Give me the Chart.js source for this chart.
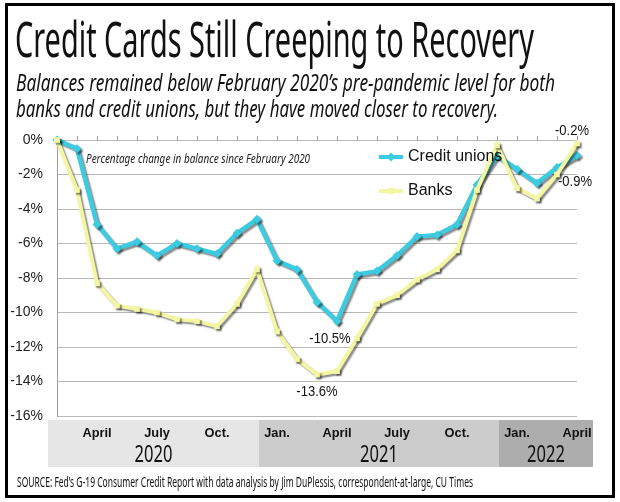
<!DOCTYPE html>
<html>
<head>
<meta charset="utf-8">
<script src="https://cdn.jsdelivr.net/npm/chart.js@4"></script>
<style>
  html, body { margin: 0; padding: 0; background: #fff; }
  #page { position: relative; width: 620px; height: 502px; overflow: hidden; }
  #frame { position: absolute; left: 5px; top: 3px; width: 610px; height: 495px; border: 3px solid #000; box-sizing: border-box; }
  canvas { position: absolute; left: 0; top: 0; }
  .txt { position: absolute; white-space: nowrap; transform-origin: 0 0; color: #111; font-family: "Noto Sans", sans-serif; }
  #title { left: 15px; top: 4px; font-size: 50px; }
  #sub1 { left: 16px; top: 66px; font-size: 23px; font-style: italic; }
  #sub2 { left: 16px; top: 92px; font-size: 23px; font-style: italic; }
  #source { left: 17px; top: 473px; font-size: 13.5px; }
</style>
</head>
<body>
<div id="page">
  <canvas id="goldless" width="620" height="502"></canvas>
  <div id="frame"></div>
  <div class="txt" id="title" data-w="519">Credit Cards Still Creeping to Recovery</div>
  <div class="txt" id="sub1" data-w="539">Balances remained below February 2020’s pre-pandemic level for both</div>
  <div class="txt" id="sub2" data-w="482">banks and credit unions, but they have moved closer to recovery.</div>
  <div class="txt" id="source" data-w="456">SOURCE: Fed’s G-19 Consumer Credit Report with data analysis by Jim DuPlessis, correspondent-at-large, CU Times</div>
</div>
<script>
// Percentage change in credit card balance since February 2020
const months = [
  'Feb 2020', 'Mar 2020', 'Apr 2020', 'May 2020', 'Jun 2020', 'Jul 2020', 'Aug 2020', 'Sep 2020', 'Oct 2020', 'Nov 2020', 'Dec 2020',
  'Jan 2021', 'Feb 2021', 'Mar 2021', 'Apr 2021', 'May 2021', 'Jun 2021', 'Jul 2021', 'Aug 2021', 'Sep 2021', 'Oct 2021', 'Nov 2021', 'Dec 2021',
  'Jan 2022', 'Feb 2022', 'Mar 2022', 'Apr 2022'
];
const creditUnions = [0, -0.5, -4.9, -6.3, -5.9, -6.7, -6.0, -6.3, -6.6, -5.4, -4.6,
  -7.0, -7.5, -9.4, -10.5, -7.8, -7.6, -6.7, -5.6, -5.5, -4.9, -2.6, -0.9,
  -1.7, -2.5, -1.6, -0.9];
const banks = [0, -2.9, -8.3, -9.6, -9.8, -10.0, -10.4, -10.5, -10.8, -9.5, -7.5,
  -11.1, -12.7, -13.6, -13.4, -11.5, -9.5, -9.0, -8.1, -7.5, -6.4, -2.9, -0.3,
  -2.8, -3.4, -2.0, -0.2];
const yTicks = [0, -2, -4, -6, -8, -10, -12, -14, -16];
// month names shown in the bottom band
const bandMonthNames = { Jan: 'Jan.', Apr: 'April', Jul: 'July', Oct: 'Oct.' };
const years = ['2020', '2021', '2022'];
// callouts: [dataset index, point index, text, dx, dy]
const callouts = [
  [1, 26, '-0.2%', -5, -12],
  [0, 26, '-0.9%', -2, 27],
  [0, 14, '-10.5%', -7, 18],
  [1, 13, '-13.6%', 0, 18]
];

const CYAN = '#3ccbe0';
const YELLOW = '#f3f6a2';

// fit html text lines to the widths seen in the reference
document.querySelectorAll('.txt').forEach(el => {
  const w = el.getBoundingClientRect().width;
  el.style.transform = 'scaleX(' + (parseFloat(el.dataset.w) / w) + ')';
});

function scaledText(ctx, text, x, y, sx, align) {
  ctx.save();
  ctx.translate(x, y);
  ctx.scale(sx, 1);
  ctx.textAlign = align || 'center';
  ctx.fillText(text, 0, 0);
  ctx.restore();
}

const lineShadow = {
  id: 'lineShadow',
  beforeDatasetsDraw(chart) {
    const ctx = chart.ctx;
    ctx.save();
    ctx.shadowColor = 'rgba(0,0,0,0.45)';
    ctx.shadowOffsetX = 2;
    ctx.shadowOffsetY = 2;
    ctx.shadowBlur = 1.5;
  },
  afterDatasetsDraw(chart) {
    chart.ctx.restore();
  }
};

const extras = {
  id: 'extras',
  beforeDatasetsDraw(chart) {
    const ctx = chart.ctx;
    const x = chart.scales.x, y = chart.scales.y;
    const top = y.getPixelForValue(0);
    // small tick marks along the 0% line
    ctx.save();
    ctx.strokeStyle = '#999';
    ctx.lineWidth = 1;
    for (let i = 0; i < months.length; i++) {
      const px = Math.round(x.getPixelForValue(i)) + 0.5;
      ctx.beginPath();
      ctx.moveTo(px, top - 4);
      ctx.lineTo(px, top);
      ctx.stroke();
    }
    ctx.restore();

    // italic note
    ctx.save();
    ctx.fillStyle = '#222';
    ctx.font = 'italic 12px "Noto Sans"';
    ctx.textBaseline = 'middle';
    scaledText(ctx, 'Percentage change in balance since February 2020', 86, 160, 0.83, 'left');
    ctx.restore();
  },
  afterDraw(chart) {
    const ctx = chart.ctx;
    const x = chart.scales.x, y = chart.scales.y;
    const bottom = y.getPixelForValue(-16);

    // year bands below the plot
    const bandTop = bottom + 4, bandBot = bottom + 51;
    const bandColors = ['#e6e6e6', '#cccccc', '#adadad'];
    let edges = [x.getPixelForValue(0) - 9];
    years.forEach((yr, k) => {
      const last = months.map(m => m.endsWith(yr)).lastIndexOf(true);
      edges.push(k === years.length - 1 ? x.getPixelForValue(last) + 16 : x.getPixelForValue(last) + 2);
    });
    ctx.save();
    years.forEach((yr, k) => {
      ctx.fillStyle = bandColors[k];
      ctx.fillRect(edges[k], bandTop, edges[k + 1] - edges[k], bandBot - bandTop);
      ctx.fillStyle = '#111';
      ctx.font = '23px "Noto Sans"';
      ctx.textBaseline = 'alphabetic';
      scaledText(ctx, yr, (edges[k] + edges[k + 1]) / 2, bandBot - 5, 0.72, 'center');
    });
    ctx.fillStyle = '#111';
    ctx.font = 'bold 13.5px "Liberation Sans"';
    ctx.textBaseline = 'middle';
    months.forEach((m, i) => {
      const name = bandMonthNames[m.split(' ')[0]];
      if (name) scaledText(ctx, name, x.getPixelForValue(i), bandTop + 13, 0.95, 'center');
    });
    ctx.restore();

    // callout labels
    ctx.save();
    ctx.fillStyle = '#111';
    ctx.font = '14px "Liberation Sans"';
    ctx.textBaseline = 'middle';
    callouts.forEach(([ds, idx, text, dx, dy]) => {
      const pt = chart.getDatasetMeta(ds).data[idx];
      scaledText(ctx, text, pt.x + dx, pt.y + dy, 0.93, 'center');
    });
    ctx.restore();

    // legend
    ctx.save();
    const items = [
      { label: chart.data.datasets[0].label, color: CYAN, style: 'rectRot', y: 157 },
      { label: chart.data.datasets[1].label, color: YELLOW, style: 'rect', y: 191 }
    ];
    items.forEach(it => {
      ctx.strokeStyle = it.color;
      ctx.fillStyle = it.color;
      ctx.lineWidth = 4;
      ctx.beginPath();
      ctx.moveTo(379, it.y);
      ctx.lineTo(403, it.y);
      ctx.stroke();
      Chart.helpers.drawPoint(ctx, { pointStyle: it.style, radius: 4.5, borderWidth: 0 }, 391, it.y);
      ctx.fillStyle = '#111';
      ctx.font = '16px "Liberation Sans"';
      ctx.textBaseline = 'middle';
      ctx.textAlign = 'left';
      ctx.fillText(it.label, 408, it.y);
    });
    ctx.restore();
  }
};

new Chart(document.getElementById('goldless'), {
  type: 'line',
  data: {
    labels: months,
    datasets: [{
      label: 'Credit unions',
      data: creditUnions,
      borderColor: CYAN,
      backgroundColor: CYAN,
      borderWidth: 4.5,
      pointStyle: 'rectRot',
      pointRadius: 4.5,
      pointBorderWidth: 0,
      tension: 0,
      clip: false,
      order: 1
    }, {
      label: 'Banks',
      data: banks,
      borderColor: YELLOW,
      backgroundColor: YELLOW,
      borderWidth: 4,
      pointStyle: 'rect',
      pointRadius: 4,
      pointBorderWidth: 0,
      tension: 0,
      clip: false,
      order: 0
    }]
  },
  options: {
    responsive: false,
    animation: false,
    devicePixelRatio: 1,
    layout: { padding: { left: 0, top: 140, right: 43, bottom: 86 } },
    plugins: { legend: { display: false }, tooltip: { enabled: false } },
    scales: {
      x: { type: 'category', offset: false, display: false },
      y: {
        min: -16,
        max: 0,
        afterFit: s => { s.width = 57; },
        afterBuildTicks: s => { s.ticks = yTicks.map(v => ({ value: v })); },
        grid: { color: '#b8b8b8', drawTicks: false },
        border: { display: true, color: '#a0a0a0' },
        ticks: {
          padding: 14,
          color: '#222',
          font: { family: 'Liberation Sans', size: 14 },
          callback: v => v + '%'
        }
      }
    }
  },
  // extras first so the note and tick marks are drawn before the shadow is switched on
  plugins: [extras, lineShadow]
});
</script>
</body>
</html>
